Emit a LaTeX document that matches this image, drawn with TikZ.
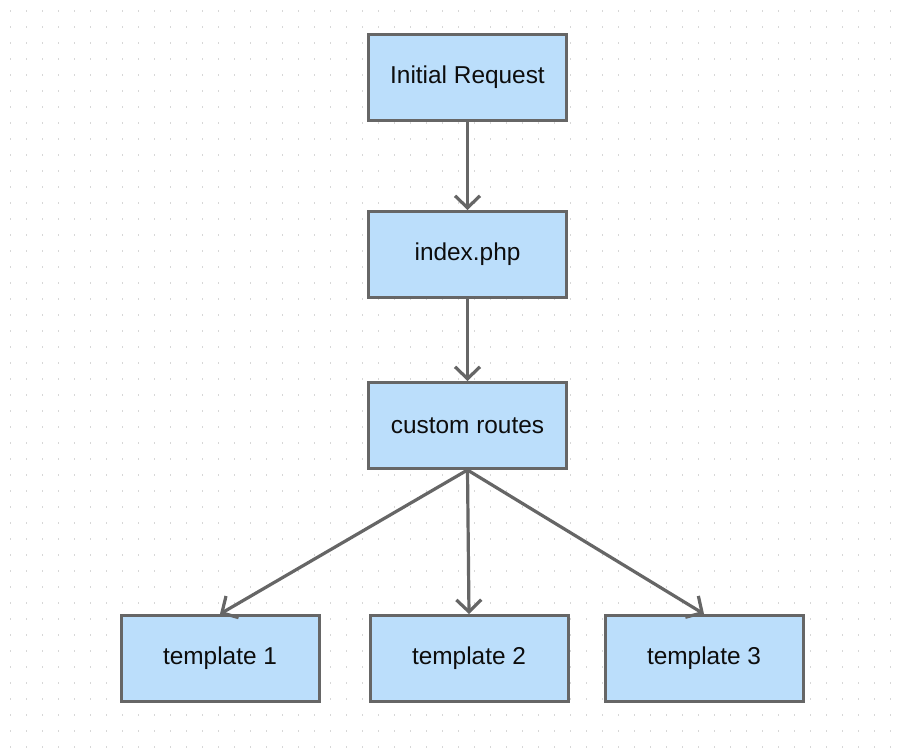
\documentclass[tikz,border=0pt]{standalone}
\usepackage{fontspec}
\setmainfont{Liberation Sans}
\usetikzlibrary{arrows.meta, positioning}
\definecolor{boxfill}{RGB}{187,222,251}
\definecolor{boxline}{RGB}{102,102,102}
\definecolor{dotgray}{RGB}{215,215,215}

\begin{document}
\begin{tikzpicture}[
    node distance=44pt and 24pt,
    >={Straight Barb[length=6pt, width=12.5pt]},
    font=\fontsize{12.2}{14}\selectfont,
    stage/.style={draw=boxline, fill=boxfill, rectangle, line width=1.5pt, minimum width=99pt, minimum height=43pt, text=black!95, inner sep=2pt},
    arrow/.style={->, line width=1.6pt, boxline}
  ]
    % page and dotted grid
    \useasboundingbox (0,0) rectangle (451pt,-374.5pt);
    \fill[white] (0,0) rectangle (451pt,-374.5pt);
    \foreach \x in {5,13,...,445}
      \foreach \y in {5.5,13.5,...,373.5}
        \fill[dotgray] (\x pt-0.25pt,-\y pt+0.6pt) rectangle (\x pt+0.25pt,-\y pt-0.6pt);

    \node[stage] (init) at (233.75pt,-38.75pt) {Initial Request};
    \node[stage, below=44pt of init] (index) {index.php};
    \node[stage, below=41pt of index] (routes) {custom routes};
    \node[stage, below=72pt of routes, xshift=0.75pt] (tpltwo) {template 2};
    \node[stage, left=24pt of tpltwo] (tplone) {template 1};
    \node[stage, right=17pt of tpltwo] (tplthree) {template 3};

    \draw[arrow] (init) -- (index);
    \draw[arrow] (index) -- (routes);
    \draw[arrow] (routes.south) -- (tplone.north);
    \draw[arrow] (routes.south) -- (tpltwo.north);
    \draw[arrow] (routes.south) -- (tplthree.north);
  \end{tikzpicture}
\end{document}
